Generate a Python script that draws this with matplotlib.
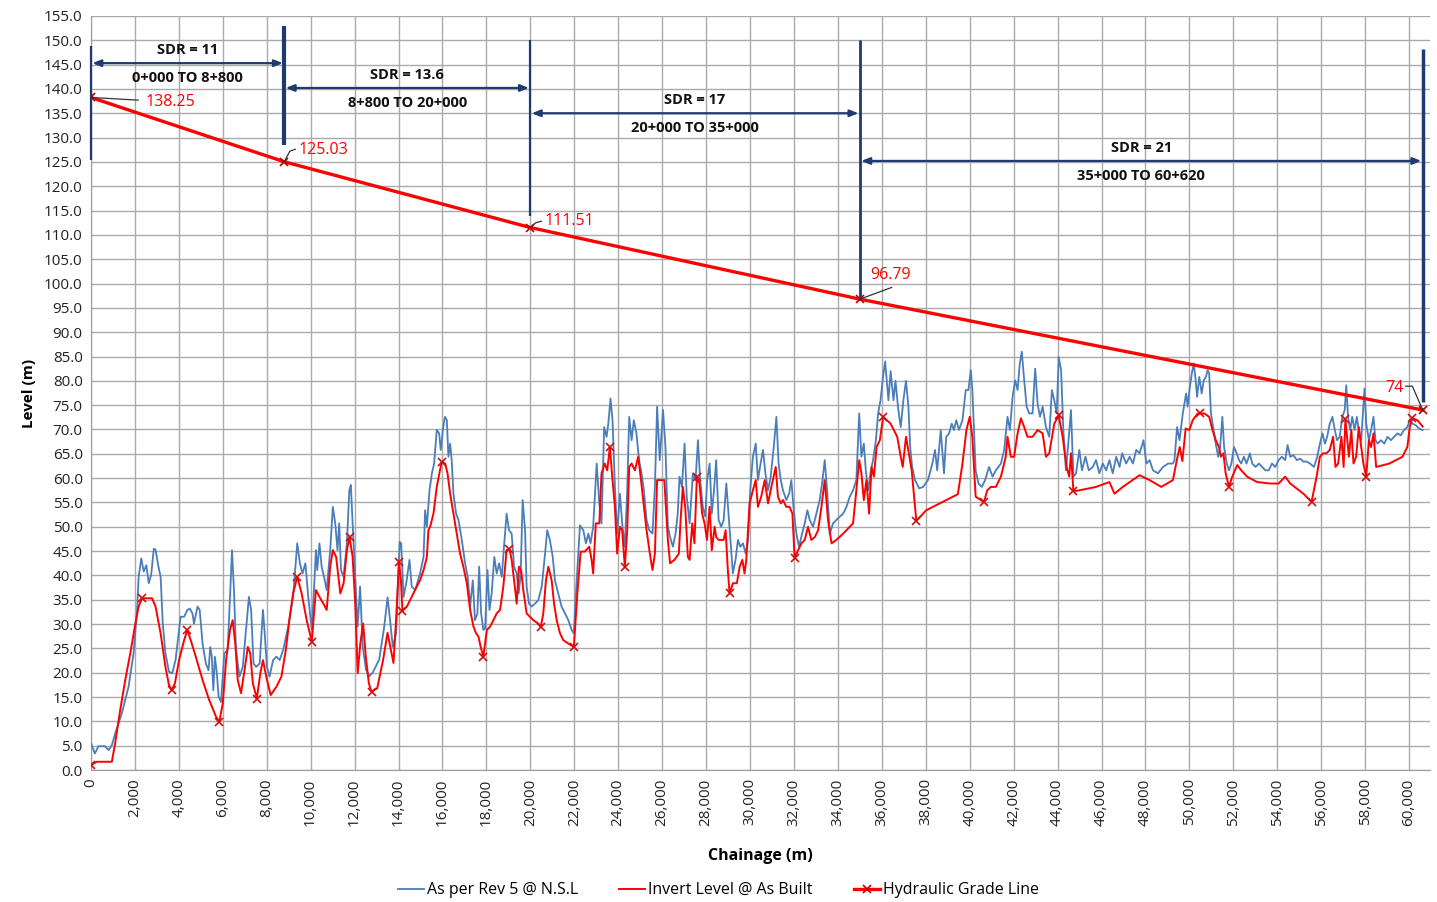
import matplotlib
matplotlib.use('Agg')
import matplotlib.pyplot as plt
from matplotlib.ticker import MultipleLocator, FuncFormatter

# ground level (As per Rev 5 @ N.S.L) - chainage (m), level (m)
nsl_ch = [0, 180, 340, 640, 800, 950, 1100, 1400, 1710, 1940, 2100, 2170, 2290, 2400, 2520, 2630, 2740,
          2860, 2940, 3060, 3170, 3270, 3390, 3550, 3700, 3850, 4080, 4240, 4390, 4500, 4620, 4690, 4850,
          4950, 5080, 5230, 5350, 5430, 5500, 5570, 5640, 5730, 5810, 5920, 6070, 6220, 6330, 6420, 6510,
          6600, 6760, 6910, 7060, 7190, 7290, 7400, 7520, 7680, 7830, 7920, 8010, 8130, 8290, 8440, 8590,
          8750, 8980, 9200, 9390, 9510, 9630, 9760, 9890, 10050, 10150, 10240, 10300, 10400, 10500, 10610,
          10730, 10890, 11010, 11120, 11220, 11300, 11380, 11500, 11650, 11760, 11830, 11910, 12030, 12140,
          12250, 12370, 12520, 12670, 12820, 13120, 13350, 13500, 13610, 13740, 13890, 14050, 14120, 14230,
          14350, 14500, 14600, 14760, 14980, 15140, 15210, 15290, 15410, 15520, 15620, 15740, 15850, 15920,
          16020, 16110, 16200, 16270, 16350, 16420, 16500, 16620, 16730, 16880, 17030, 17150, 17260, 17380,
          17480, 17590, 17670, 17760, 17860, 17940, 18050, 18140, 18240, 18360, 18470, 18580, 18700, 18800,
          18920, 19030, 19150, 19260, 19380, 19470, 19560, 19650, 19760, 19830, 19940, 20060, 20210, 20360,
          20520, 20670, 20770, 20890, 21020, 21120, 21270, 21420, 21580, 21730, 21880, 21980, 22110, 22260,
          22410, 22530, 22640, 22740, 22860, 23020, 23140, 23240, 23360, 23470, 23550, 23650, 23740, 23850,
          23950, 24080, 24180, 24300, 24410, 24500, 24610, 24710, 24830, 24950, 25060, 25170, 25290, 25410,
          25560, 25670, 25770, 25890, 26040, 26150, 26260, 26360, 26490, 26610, 26710, 26790, 26900, 27020,
          27120, 27250, 27400, 27520, 27630, 27730, 27850, 27960, 28050, 28160, 28260, 28360, 28460, 28570,
          28690, 28800, 28920, 29020, 29120, 29220, 29340, 29450, 29560, 29680, 29800, 29910, 30010, 30130,
          30260, 30360, 30480, 30590, 30700, 30820, 30940, 31080, 31200, 31300, 31400, 31500, 31650, 31780,
          31880, 31990, 32110, 32230, 32370, 32490, 32610, 32720, 32870, 33020, 33170, 33300, 33400, 33510,
          33630, 33780, 33930, 34090, 34240, 34390, 34540, 34690, 34840, 34970, 35070, 35180, 35270, 35380,
          35480, 35600, 35730, 35830, 35940, 36060, 36150, 36300, 36400, 36530, 36620, 36750, 36860, 36980,
          37100, 37210, 37290, 37380, 37510, 37700, 37880, 38100, 38300, 38420, 38520, 38680, 38830, 38930,
          39060, 39180, 39280, 39390, 39510, 39670, 39820, 39940, 40050, 40120, 40270, 40400, 40550, 40700,
          40880, 41040, 41190, 41420, 41570, 41720, 41830, 41950, 42070, 42180, 42280, 42370, 42480, 42590,
          42710, 42860, 42980, 43090, 43200, 43320, 43470, 43620, 43740, 43850, 43960, 44050, 44160, 44260,
          44380, 44500, 44610, 44720, 44840, 44990, 45110, 45270, 45420, 45600, 45750, 45900, 46060, 46210,
          46360, 46510, 46670, 46820, 46940, 47120, 47280, 47430, 47580, 47730, 47910, 48040, 48190, 48340,
          48570, 48800, 49030, 49250, 49320, 49440, 49550, 49700, 49850, 49920, 50000, 50110, 50200, 50270,
          50350, 50450, 50560, 50650, 50750, 50830, 50900, 50980, 51100, 51200, 51310, 51400, 51500, 51580,
          51700, 51800, 51910, 52030, 52150, 52260, 52360, 52480, 52600, 52750, 52860, 53010, 53160, 53310,
          53460, 53610, 53760, 53910, 54060, 54210, 54360, 54470, 54590, 54740, 54890, 55040, 55190, 55340,
          55490, 55670, 55820, 55940, 56060, 56170, 56270, 56390, 56510, 56620, 56720, 56840, 56960, 57070,
          57140, 57220, 57320, 57410, 57520, 57620, 57710, 57820, 57890, 57970, 58050, 58170, 58270, 58380,
          58470, 58570, 58720, 58870, 59020, 59170, 59320, 59470, 59620, 59770, 59920, 60030, 60150, 60300,
          60450, 60620]
nsl_lv = [5.5, 3.4, 4.9, 4.9, 4.1, 5.1, 7.5, 11.6, 17.1, 24, 32.9, 39.7, 43.5, 40.8, 42.1, 38.4, 40.1,
          45.5, 45.3, 42.1, 39.7, 30.1, 24, 20.2, 19.9, 22.6, 31.5, 31.5, 32.9, 33.2, 32.2, 30.1, 33.6,
          32.9, 26, 21.9, 20.5, 25.3, 23.3, 16.4, 23.3, 19.9, 15.1, 14, 24, 24.7, 35.6, 45.2, 37,
          24.7, 19.2, 21.2, 28.8, 35.6, 32.9, 21.9, 21.2, 21.9, 32.9, 27.4, 21.2, 19.2, 22.6, 23.3, 22.6,
          24.7, 29.5, 35.6, 46.6, 42.5, 40.4, 42.5, 35.6, 28.8, 37, 45.2, 41.1, 46.6, 41.8, 39.7,
          37, 45.2, 54.1, 50.7, 45.2, 50.7, 41.1, 39.7, 46.6, 57.5, 58.6, 50.7, 39.7, 29.5,
          37.7, 25.4, 20.6, 19.3, 20, 22.7, 29.5, 35.5, 31, 25.3, 28.1, 46.9, 46.6, 35.6,
          38.4, 43.2, 37.7, 37, 40.4, 43.8, 53.4, 50, 57.5, 61, 63, 69.9, 69.2, 65.8,
          69.9, 72.6, 71.9, 64.4, 67.1, 63.7, 56.8, 52.7, 51.4, 47.3, 42.5, 39.7, 33.6, 39,
          30.8, 32.2, 41.8, 32.2, 28.8, 29.1, 41.1, 32.9, 36.3, 43.8, 40.4, 42.5, 39.7, 45.9,
          52.7, 49.3, 48.6, 41.8, 40.4, 36.3, 40.4, 55.5, 49.3, 37.7, 34.2, 33.6, 34.2, 34.9,
          37.7, 44.5, 49.3, 47.3, 43.8, 39, 36.3, 33.6, 32.2, 30.8, 28.8, 28.1, 39, 50.3,
          49.3, 46.6, 48.6, 46.6, 50, 63, 54.8, 50.7, 70.5, 68.5, 71.2, 76.4, 71.9, 58.2,
          48.6, 56.8, 50.7, 45.9, 57.5, 72.6, 67.8, 71.9, 69.2, 63.7, 61, 57.5, 51.4, 49.3,
          48.6, 58.2, 74.7, 63.7, 74, 66.4, 50, 47.9, 45.9, 48.6, 52.7, 60.3, 58.2, 67.1,
          56.2, 50.7, 61, 59.6, 67.8, 59.6, 54.1, 52.1, 59.6, 63, 52.7, 57.5, 63.7, 51.4,
          50, 51.4, 58.9, 52.7, 46.6, 40.4, 43.2, 47.3, 45.9, 46.6, 44.5, 47.3, 57.5, 64.4,
          67.1, 59.6, 63, 65.8, 61, 57.5, 60.3, 66.4, 72.6, 63, 59.6, 57.5, 55.5, 56.8,
          59.6, 53.4, 48.6, 45.9, 48.6, 50.7, 53.4, 51.4, 50, 52.7, 55.5, 59.6, 63.7, 57.5,
          48.6, 50.7, 51.4, 52.1, 52.7, 54.1, 56.2, 57.5, 59.6, 73.3, 64.4, 67.1, 61.6, 57.5,
          61, 63.7, 67.8, 73.3, 76, 81, 84, 76, 82, 76, 80, 74, 70.5, 76,
          80, 74.7, 66.4, 62.3, 59.6, 57.9, 58.2, 59.6, 63, 65.8, 61.6, 69.9, 61, 68.5,
          69.2, 71.2, 69.9, 71.9, 69.9, 71.9, 78.1, 78.1, 82.2, 78.1, 61.6, 58.9, 58.2, 59.6,
          62.3, 60.3, 61.6, 63, 65.8, 72.6, 69.9, 76.7, 80.1, 78.1, 83.6, 86, 80.1, 74.7,
          73.3, 73.3, 82.5, 75.3, 72.6, 74.7, 70.5, 68.5, 78.1, 76, 73.3, 84.9, 82.2, 69.9,
          61.6, 67.8, 74, 60.3, 61, 65.8, 61.6, 64.4, 61.6, 62.3, 63.7, 61, 63, 61.6,
          63.7, 61, 64.4, 62.3, 65.1, 63, 64.4, 63, 65.8, 65.1, 67.8, 63, 63.7, 61.6,
          61, 62.3, 63, 63, 63.7, 70.5, 67.8, 73.3, 77.4, 74.7, 78.1, 81.5, 83.6, 80.8,
          76.7, 80.8, 77.4, 80.1, 80.8, 82.2, 81.5, 73.3, 69.9, 67.1, 64.4, 66.4, 72.6, 66.4,
          63, 61.6, 63, 66.4, 65.1, 63.7, 63, 64.4, 63, 65.1, 63, 62.3, 63, 62.3,
          61.6, 61.6, 63, 62.3, 63.7, 64.4, 63.7, 66.8, 64.4, 64.7, 63.7, 64, 63.4, 63.4,
          63, 62.3, 64.4, 67.1, 69.2, 67.1, 68.5, 71.2, 72.6, 69.9, 67.8, 68.5, 72.6, 74,
          79.1, 72.6, 69.9, 72.6, 69.9, 72.6, 69.9, 67.8, 72.6, 78.4, 71.2, 67.8, 69.9, 72.6,
          67.8, 67.1, 67.8, 67.1, 68.5, 67.8, 68.5, 69.2, 68.8, 69.9, 70.5, 71.9, 71.2, 70.9,
          70.2, 69.9]

# invert level @ as built
inv_ch = [0, 260, 490, 950, 1100, 1330, 1560, 1790, 2020, 2170, 2320, 2550, 2780, 2940, 3170, 3390, 3550,
          3670, 3820, 4010, 4240, 4390, 4540, 4770, 5080, 5380, 5690, 5840, 6000, 6150, 6330, 6450, 6570,
          6680, 6830, 6990, 7140, 7250, 7370, 7550, 7710, 7830, 7980, 8180, 8440, 8670, 8870, 9050, 9200,
          9390, 9590, 9820, 10050, 10240, 10400, 10580, 10730, 10890, 11010, 11160, 11350, 11500, 11650,
          11770, 11910, 12030, 12140, 12260, 12390, 12510, 12650, 12770, 13030, 13300, 13500, 13620, 13770,
          13890, 14020, 14110, 14180, 14380, 14600, 14830, 14980, 15140, 15290, 15360, 15440, 15590, 15740,
          15860, 15970, 16120, 16230, 16350, 16500, 16650, 16800, 16950, 17110, 17260, 17410, 17530, 17640,
          17740, 17860, 18020, 18170, 18320, 18470, 18620, 18770, 18920, 19050, 19150, 19260, 19380, 19480,
          19580, 19680, 19830, 19980, 20140, 20360, 20480, 20590, 20710, 20820, 20970, 21080, 21200, 21350,
          21500, 21730, 21980, 22140, 22290, 22480, 22680, 22790, 22860, 22980, 23140, 23240, 23390, 23500,
          23620, 23740, 23850, 23950, 24080, 24180, 24300, 24410, 24500, 24610, 24760, 24910, 25020, 25140,
          25290, 25440, 25560, 25670, 25770, 25950, 26100, 26260, 26360, 26560, 26760, 26840, 26940, 27050,
          27170, 27250, 27370, 27470, 27580, 27700, 27820, 27930, 28040, 28160, 28260, 28390, 28460, 28570,
          28800, 28890, 28990, 29070, 29220, 29400, 29530, 29650, 29750, 29830, 29980, 30130, 30260, 30360,
          30510, 30670, 30820, 30970, 31170, 31270, 31400, 31500, 31650, 31800, 31930, 32030, 32190, 32340,
          32490, 32640, 32790, 32950, 33100, 33250, 33400, 33550, 33710, 33930, 34240, 34690, 34840, 34970,
          35070, 35180, 35300, 35420, 35530, 35640, 35760, 35910, 36060, 36400, 36700, 36860, 36950, 37100,
          37200, 37360, 37570, 38020, 38630, 39460, 39670, 39850, 40000, 40120, 40270, 40500, 40650, 40800,
          40960, 41190, 41420, 41640, 41720, 41870, 42020, 42180, 42330, 42480, 42630, 42860, 43090, 43320,
          43470, 43620, 43850, 44050, 44230, 44410, 44530, 44610, 44720, 44990, 45750, 46360, 46590, 46970,
          47730, 48190, 48720, 49250, 49440, 49560, 49680, 49830, 50000, 50150, 50380, 50500, 50680, 50900,
          51050, 51200, 51350, 51430, 51550, 51650, 51800, 51950, 52180, 52360, 52630, 53080, 53680, 54060,
          54360, 54590, 55190, 55560, 55790, 55940, 56090, 56240, 56390, 56540, 56650, 56770, 56920, 57020,
          57100, 57260, 57370, 57470, 57590, 57710, 57820, 57920, 58050, 58170, 58270, 58380, 58500, 59100,
          59700, 59920, 60030, 60150, 60380, 60620]
inv_lv = [1.0, 1.7, 1.7, 1.7, 5.5, 12.3, 18.5, 24, 30.1, 33.6, 35.3, 35.3, 35.3, 33.6, 28.1, 21.2, 17.5,
          16.4, 17.8, 22.6, 26.7, 28.8, 26.7, 23.3, 18.5, 14.4, 11, 9.9, 13.7, 22.6, 28.8, 30.8, 26,
          18.5, 15.8, 20.5, 25.3, 24, 17.8, 14.7, 19.9, 22.6, 19.2, 15.4, 17.1, 19.2, 24.7, 31.5, 36.3,
          39.7, 36.3, 30.8, 26.4, 37, 35.6, 34.2, 32.9, 41.8, 45.2, 43.8, 36.3, 38.4, 45.2,
          47.9, 43.8, 34.2, 19.9, 26, 30.1, 23.3, 17.8, 16.1, 16.8, 22.7, 28.2, 25.4, 22,
          31, 42.8, 39, 32.7, 33.6, 35.6, 37.7, 39, 41.1, 43.8, 49.3, 50, 52.7, 58.2,
          61, 63.4, 63, 61, 56.8, 52.7, 48.6, 44.5, 41.8, 38.4, 32.9, 29.5, 28.1, 27.4,
          25.3, 23.3, 28.8, 29.5, 30.8, 32.2, 32.9, 37.7, 45.2, 45.5, 43.2, 39, 34.2, 41.8,
          41.1, 37, 32.2, 31.5, 30.8, 30.1, 29.5, 32.2, 39, 41.8, 39, 34.2, 30.8, 28.1,
          26.7, 26, 25.3, 36.3, 44.9, 44.9, 45.9, 43.2, 40.4, 50.7, 50.7, 61, 63, 61.6,
          66.4, 59.6, 54.1, 44.5, 50, 49.3, 41.8, 49.3, 62.3, 63, 61.6, 64.4, 60.3, 55.5,
          49.3, 44.5, 41.1, 44.5, 59.6, 59.6, 59.6, 47.3, 42.5, 43.2, 44.5, 51.4, 58.2, 54.1,
          43.8, 43.2, 50.7, 46.6, 60.3, 58.9, 52.7, 50.7, 47.3, 54.1, 45.2, 50, 47.9, 47.3,
          47.3, 49.3, 41.1, 36.3, 38.4, 38.4, 41.8, 43.2, 40.4, 43.2, 54.8, 57.5, 59.6, 54.1,
          56.2, 59.6, 54.8, 58.2, 62.3, 56.2, 54.8, 55.5, 54.1, 54.1, 52.7, 43.6, 45.2, 46.6,
          47.3, 50, 47.3, 47.9, 49.3, 54.1, 59.6, 51.4, 46.6, 47.3, 48.6, 50.7, 57.5, 63.7,
          61, 55.5, 59.6, 52.7, 62.3, 60.3, 66.4, 67.8, 72.6, 71.2, 68.5, 64.4, 62.3, 68.5,
          65.8, 61.6, 51.2, 53.4, 54.8, 56.7, 63, 69.9, 72.6, 68.5, 56.2, 55.5, 55.1, 57.5,
          58.2, 58.2, 60.3, 64.4, 68.5, 64.4, 64.4, 69.2, 72.3, 70.5, 68.5, 68.5, 69.9, 69.2,
          64.4, 65.1, 71.2, 72.9, 68.5, 62.3, 60.3, 65.1, 57.3, 57.5, 58.2, 59.2, 56.8, 58.2,
          60.6, 59.6, 58.2, 59.6, 64, 66.4, 63.5, 70.2, 69.9, 71.9, 73.3, 73.3, 73.3, 72.6,
          69.9, 67.8, 66.4, 64.4, 65.1, 61, 58.2, 60.3, 62.7, 61.6, 60.3, 59.2, 58.9, 58.9,
          60.3, 58.9, 56.8, 55.1, 60.3, 64.4, 65.1, 65.1, 65.8, 68.5, 62.3, 63, 68.5, 62.3,
          72.1, 64.4, 69.9, 63, 64.4, 70.5, 66.4, 63, 60.3, 67.8, 66.4, 69.2, 62.3, 63,
          64.4, 66.4, 70.5, 72.3, 71.9, 70.6]

# marked points along the invert (x)
mark_ch = [0, 2320, 3670, 4390, 5840, 7550, 9390, 10050, 11770, 12770, 14020, 14180, 15970, 17860, 19050,
           20480, 21980, 23620, 24300, 27580, 29070, 32030, 36060, 37570, 40650, 44050, 44720, 50500,
           51800, 55560, 57100, 58050, 60150]
mark_lv = [1.0, 35.3, 16.4, 28.8, 9.9, 14.7, 39.7, 26.4, 47.9, 16.1, 42.8, 32.7, 63.4, 23.3, 45.5,
           29.5, 25.3, 66.4, 41.8, 60.3, 36.3, 43.6, 72.6, 51.2, 55.1, 72.9, 57.3, 73.3,
           58.2, 55.1, 72.1, 60.3, 72.3]

# hydraulic grade line
hgl_ch = [0, 8800, 20000, 35000, 60620]
hgl_lv = [138.25, 125.03, 111.51, 96.79, 74]
hgl_labels = ['138.25', '125.03', '111.51', '96.79', '74']

# SDR sections
sdr_start = [0, 8800, 20000, 35000]
sdr_end = [8800, 20000, 35000, 60620]
sdr_names = ['SDR = 11', 'SDR = 13.6', 'SDR = 17', 'SDR = 21']
sdr_ranges = ['0+000 TO 8+800', '8+800 TO 20+000', '20+000 TO 35+000', '35+000 TO 60+620']
sdr_arrow_y = [145.3, 140.2, 135.0, 125.2]

plt.rcParams['font.family'] = ['Open Sans', 'DejaVu Sans']

BLUE = '#4A7EBB'
RED = '#FF0000'
NAVY = '#1F3A70'

fig = plt.figure(figsize=(14.37, 9.02), dpi=100)
ax = fig.add_axes([0.0633, 0.1463, 0.9318, 0.836])

ax.plot(nsl_ch, nsl_lv, color=BLUE, lw=1.3, label='As per Rev 5 @ N.S.L', zorder=3)
ax.plot(inv_ch, inv_lv, color=RED, lw=1.4, label='Invert Level @ As Built', zorder=4)
ax.plot(mark_ch, mark_lv, ls='none', marker='x', color='#D01010', ms=6, mew=1.2, zorder=5)
ax.plot(hgl_ch, hgl_lv, color=RED, lw=2.4, marker='x', ms=6, mew=1.2, mec='#C00000',
        label='Hydraulic Grade Line', zorder=5)

# section boundaries
vlines = [(0, 125.4, 148.8, 1.6), (8800, 128.5, 153.0, 3.0), (20000, 113.9, 150.0, 1.6),
          (35000, 97.0, 150.0, 2.0), (60620, 75.6, 148.3, 2.5)]
for x, y0, y1, w in vlines:
    ax.plot([x, x], [y0, y1], color=NAVY, lw=w, zorder=6, clip_on=False, solid_capstyle='butt')

for s, e, name, rng, ay in zip(sdr_start, sdr_end, sdr_names, sdr_ranges, sdr_arrow_y):
    ax.annotate('', xy=(e, ay), xytext=(s, ay),
                arrowprops=dict(arrowstyle='<|-|>,head_length=0.5,head_width=0.2', color=NAVY, lw=1.6,
                                shrinkA=1, shrinkB=1), zorder=6)
    mid = (s + e) / 2
    ax.text(mid, ay + 2.7, name, ha='center', va='center', fontsize=10.5, fontweight='bold', color='#111111')
    ax.text(mid, ay - 3.0, rng, ha='center', va='center', fontsize=10.5, fontweight='bold', color='#111111')

# HGL value labels with leader lines
label_pos = [(2500, 137.4), (9450, 127.4), (20650, 112.8), (35450, 101.7), (59750, 78.6)]
leaders = [([0, 2150], [138.25, 137.7]),
           ([8800, 9050, 9300], [125.03, 127.2, 127.6]),
           ([20000, 20250, 20500], [111.51, 112.5, 112.8]),
           ([35000, 36450], [96.79, 99.2]),
           ([59850, 60150, 60620], [78.9, 78.9, 74.0])]
for (lx, ly), txt, (xs, ys) in zip(label_pos, hgl_labels, leaders):
    ha = 'right' if txt == '74' else 'left'
    ax.text(lx, ly, txt, color=RED, fontsize=11.5, ha=ha, va='center', zorder=7)
    ax.plot(xs, ys, color='#333333', lw=0.9, zorder=7)

ax.set_xlim(0, 60950)
ax.set_ylim(0, 155)
ax.xaxis.set_major_locator(MultipleLocator(2000))
ax.yaxis.set_major_locator(MultipleLocator(5))
ax.xaxis.set_major_formatter(FuncFormatter(lambda v, p: f'{int(v):,}'))
ax.yaxis.set_major_formatter(FuncFormatter(lambda v, p: f'{v:.1f}'))
ax.tick_params(axis='x', labelrotation=90, length=0, pad=6, labelsize=11, labelcolor='#222222')
ax.tick_params(axis='y', length=0, pad=6, labelsize=11, labelcolor='#222222')
ax.grid(True, color='#AAAAAA', lw=1.0, zorder=0)
ax.set_axisbelow(True)
for side in ['top', 'right']:
    ax.spines[side].set_visible(False)
for side in ['left', 'bottom']:
    ax.spines[side].set_color('#9A9A9A')

ax.set_xlabel('Chainage (m)', fontsize=11.5, fontweight='bold', labelpad=16)
ax.set_ylabel('Level (m)', fontsize=11, fontweight='bold', labelpad=6)

handles, labels = ax.get_legend_handles_labels()
fig.legend(handles, labels, loc='center', bbox_to_anchor=(0.5, 0.013), ncol=3, frameon=False,
           fontsize=11.5, handlelength=1.6, handletextpad=0.2, columnspacing=2.6)

fig.savefig('out.png', dpi=100)
